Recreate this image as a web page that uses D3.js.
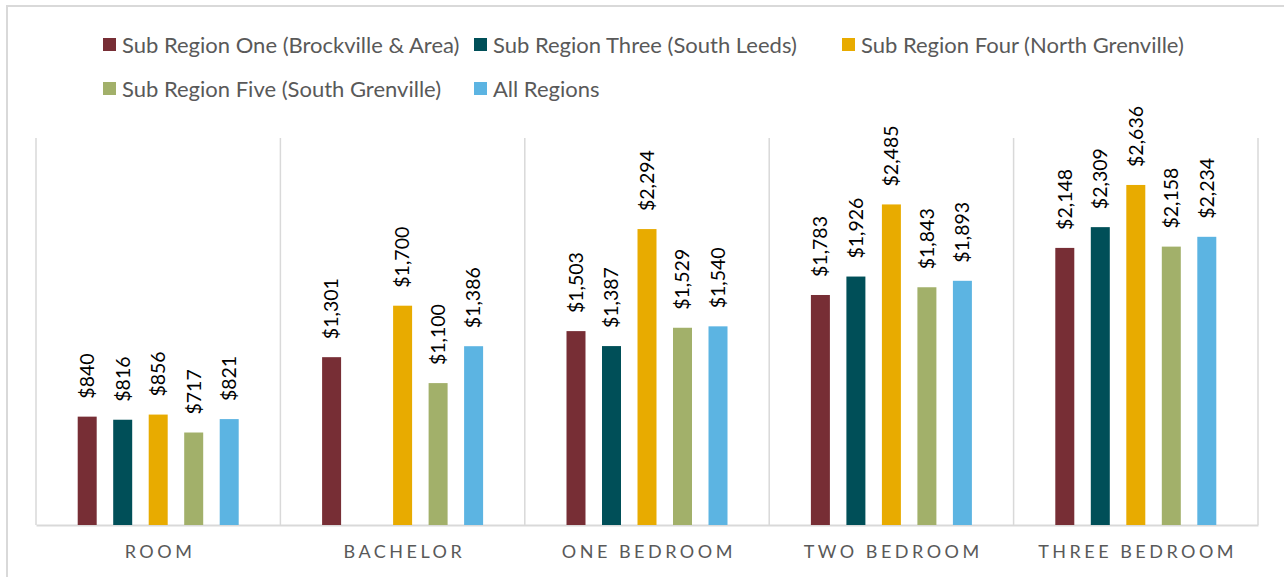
<!DOCTYPE html>
<html>
<head>
<meta charset="utf-8">
<script src="https://cdn.jsdelivr.net/npm/d3@7"></script>
<style>
  body { margin: 0; background: #fff; }
  svg text { font-family: Lato, "Open Sans", sans-serif; }
</style>
</head>
<body>
<svg id="container" width="1284" height="577"></svg>
<script>
// data
const categories = ["ROOM", "BACHELOR", "ONE BEDROOM", "TWO BEDROOM", "THREE BEDROOM"];
const series = [
  "Sub Region One (Brockville & Area)",
  "Sub Region Three (South Leeds)",
  "Sub Region Four (North Grenville)",
  "Sub Region Five (South Grenville)",
  "All Regions"
];
const subRegionOne   = [840, 1301, 1503, 1783, 2148];
const subRegionThree = [816, null, 1387, 1926, 2309];
const subRegionFour  = [856, 1700, 2294, 2485, 2636];
const subRegionFive  = [717, 1100, 1529, 1843, 2158];
const allRegions     = [821, 1386, 1540, 1893, 2234];
const colors = ["#772E35", "#004F58", "#E8AB00", "#A2B06A", "#5CB4E2"];

const values = [subRegionOne, subRegionThree, subRegionFour, subRegionFive, allRegions];

const margin = { top: 138, bottom: 52, left: 36, right: 26 };
const width = 1284, height = 577;

let svg = d3.select("#container");

// outer border
svg.append("rect")
    .attr("x", 7).attr("y", 6)
    .attr("width", 1290).attr("height", 600)
    .attr("fill", "none")
    .attr("stroke", "#d9d9d9")
    .attr("stroke-width", 2);

let x0 = d3.scaleBand()
    .domain(categories)
    .range([margin.left, width - margin.right]);

let bw = x0.bandwidth();
let x1 = d3.scaleBand()
    .domain(series)
    .range([bw / 2 - 80.5, bw / 2 + 80.5])
    .paddingInner(0.465);

let y = d3.scaleLinear()
    .domain([0, 3000])
    .range([height - margin.bottom, margin.top]);

// vertical dividers
let dividers = categories.map(c => x0(c)).concat([width - margin.right]);
svg.append("g").selectAll("line")
    .data(dividers).enter()
    .append("line")
    .attr("x1", d => d).attr("x2", d => d)
    .attr("y1", y(3000)).attr("y2", y(0))
    .attr("stroke", "#d9d9d9")
    .attr("stroke-width", 1.5);

// bottom axis
let xAxis = d3.axisBottom(x0).tickSize(0).tickPadding(20);
let ax = svg.append("g")
    .attr("transform", `translate(0,${y(0)})`)
    .call(xAxis);
ax.select(".domain").attr("stroke", "#d9d9d9").attr("stroke-width", 2);
ax.selectAll("text")
    .attr("fill", "#595959")
    .attr("dx", "1.8px")
    .style("font-size", "18px")
    .style("letter-spacing", "3.5px");

// bars
let groups = svg.append("g").selectAll("g")
    .data(categories).enter()
    .append("g")
    .attr("transform", d => `translate(${x0(d)},0)`);

let cells = groups.selectAll("g")
    .data((c, i) => series.map((s, j) => ({ s: s, j: j, v: values[j][i] })).filter(d => d.v != null))
    .enter().append("g");

cells.append("rect")
    .attr("x", d => x1(d.s))
    .attr("y", d => y(d.v))
    .attr("width", x1.bandwidth())
    .attr("height", d => y(0) - y(d.v))
    .attr("fill", d => colors[d.j]);

cells.append("text")
    .attr("transform", d => `translate(${x1(d.s) + x1.bandwidth() / 2},${y(d.v) - 18}) rotate(-90)`)
    .attr("dy", "0.35em")
    .attr("text-anchor", "start")
    .attr("fill", "#000")
    .style("font-size", "19.5px")
    .text(d => "$" + d3.format(",")(d.v));

// legend
const legendPos = [[103, 45], [474, 45], [842, 45], [103, 89], [474, 89]];
let legend = svg.append("g").selectAll("g")
    .data(series).enter()
    .append("g")
    .attr("transform", (d, i) => `translate(${legendPos[i][0]},${legendPos[i][1]})`);

legend.append("rect")
    .attr("x", 0).attr("y", -7)
    .attr("width", 13).attr("height", 13)
    .attr("fill", (d, i) => colors[i]);

legend.append("text")
    .attr("x", 19).attr("y", 0)
    .attr("dy", "0.35em")
    .attr("fill", "#595959")
    .style("font-size", "22px")
    .text(d => d);
</script>
</body>
</html>
